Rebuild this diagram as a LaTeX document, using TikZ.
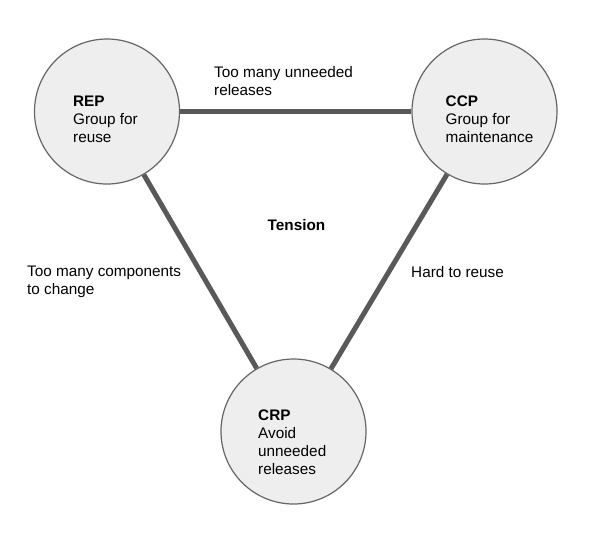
\documentclass[tikz,border=0pt]{standalone}
\usepackage{fontspec}
\setmainfont{Liberation Sans}
\definecolor{circgray}{HTML}{666666}
\definecolor{circfill}{HTML}{EEEEEE}
\definecolor{linkgray}{HTML}{595959}
\begin{document}
\begin{tikzpicture}[x=1pt,y=-1pt,
  principle/.style={circle,draw=circgray,fill=circfill,line width=1.2pt,minimum size=145pt,inner sep=0pt},
  link/.style={draw=linkgray,line width=5pt},
  txt/.style={anchor=base west,inner sep=0pt,align=left,font=\fontsize{15.3}{18}\selectfont}]
\useasboundingbox[fill=white] (0,0) rectangle (609,542);
\node[principle] (rep) at (107,111.5) {};
\node[principle] (ccp) at (484.5,111.5) {};
\node[principle] (crp) at (293.5,431.5) {};
\draw[link] (rep) -- (ccp);
\draw[link] (rep) -- (crp);
\draw[link] (ccp) -- (crp);
\node[txt] (reptext) at (73,142.5) {\textbf{REP}\\Group for\\reuse};
\node[txt] (ccptext) at (445.5,142.5) {\textbf{CCP}\\Group for\\maintenance};
\node[txt] (crptext) at (258,474) {\textbf{CRP}\\Avoid\\unneeded\\releases};
\node[txt] (toprel) at (214,95.5) {Too many unneeded\\releases};
\node[txt] (leftrel) at (27,294) {Too many components\\to change};
\node[txt] (rightrel) at (411,277) {Hard to reuse};
\node[txt,anchor=base] (tension) at (296.5,230.5) {\textbf{Tension}};
\end{tikzpicture}
\end{document}
